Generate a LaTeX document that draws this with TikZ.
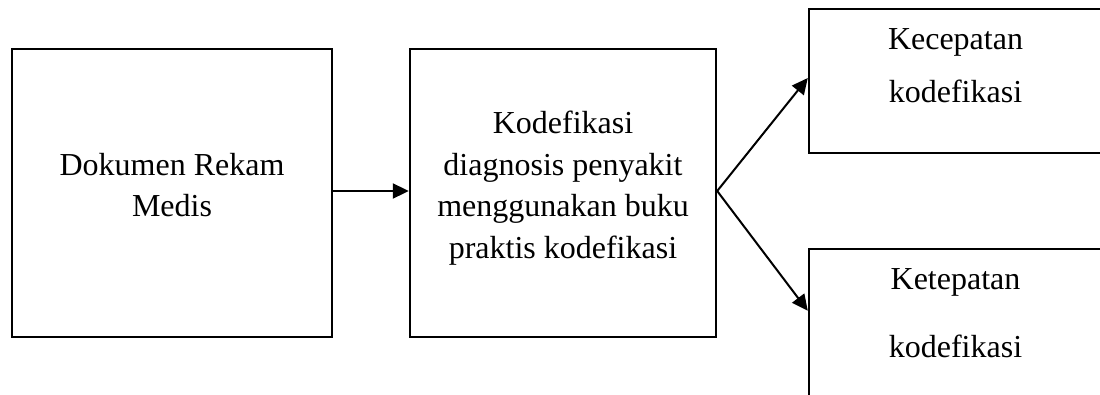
\documentclass[tikz,border=0pt]{standalone}
\usepackage{fontspec}
\setmainfont{Liberation Serif}
\usetikzlibrary{arrows.meta}
\begin{document}
\begin{tikzpicture}[x=1pt,y=-1pt,
  box/.style={draw,line width=2.4pt,inner sep=0pt},
  lbl/.style={align=center,font=\fontsize{32}{41.7}\selectfont,inner sep=0pt},
  link/.style={line width=2pt,-{Triangle[length=16pt,width=15pt]}}]
\useasboundingbox (0,0) rectangle (1100,394);
% boxes
\node[box,minimum width=320pt,minimum height=288pt] (rekam) at (172,193) {};
\node[box,minimum width=306pt,minimum height=288pt] (kode) at (563,193) {};
\node[box,minimum width=293pt,minimum height=144pt] (kecep) at (955.5,81) {};
\node[box,minimum width=293pt,minimum height=191pt] (ketep) at (955.5,344.5) {};
% texts
\node[lbl] (t1) at (172,185) {Dokumen Rekam\\Medis};
\node[lbl] (t2) at (563,188) {Kodefikasi\\diagnosis penyakit\\menggunakan buku\\praktis kodefikasi};
\node[lbl] (t3) at (955.5,65.5) {Kecepatan\\[11pt]kodefikasi};
\node[lbl] (t4) at (955.5,313) {Ketepatan\\[26pt]kodefikasi};
% connectors
\coordinate (kecepIn) at ([yshift=3pt]kecep.west);
\coordinate (ketepIn) at ([yshift=-63pt]ketep.north west);
\draw[link] ([yshift=2pt]rekam.east) -- ([yshift=2pt]kode.west);
\draw[link] ([yshift=2pt]kode.east) -- (kecepIn);
\draw[link] ([yshift=2pt]kode.east) -- (ketepIn);
\end{tikzpicture}
\end{document}
